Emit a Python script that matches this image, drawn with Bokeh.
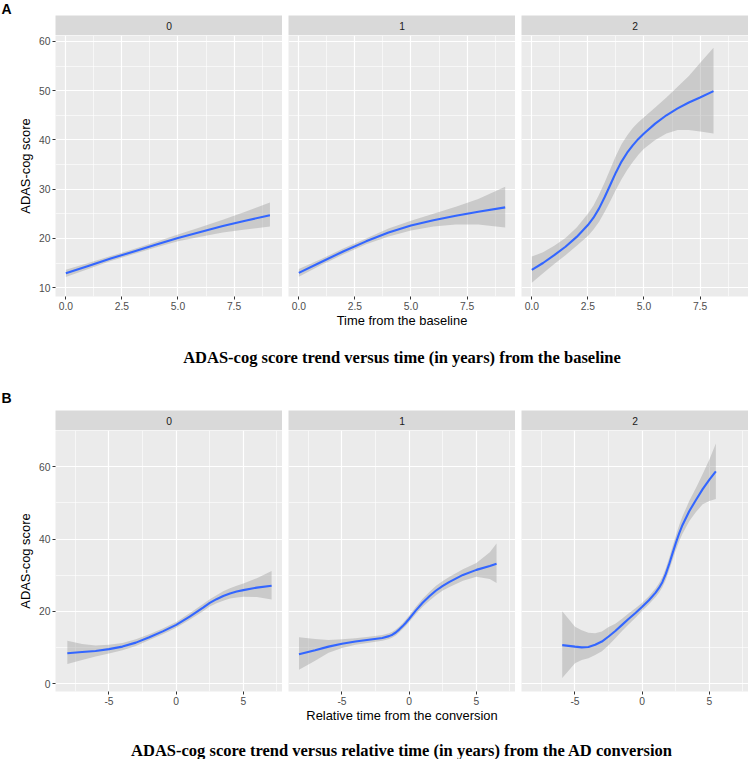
from bokeh.plotting import figure
from bokeh.layouts import row, column
from bokeh.models import Range1d, FixedTicker, NumeralTickFormatter, Spacer
from bokeh.embed import file_html
from bokeh.resources import INLINE
from bokeh.core.properties import value

# ---------------- data ----------------
facets = ["0", "1", "2"]
panel_letters = ["A", "B"]
y_title = "ADAS-cog score"
a_xlabel = "Time from the baseline"
b_xlabel = "Relative time from the conversion"
a_caption = "ADAS-cog score trend versus time (in years) from the baseline"
b_caption = "ADAS-cog score trend versus relative time (in years) from the AD conversion"

# Row A ticks
a_xticks = [0, 2.5, 5, 7.5]
a_xminor = [1.25, 3.75, 6.25, 8.75]
a_yticks = [10, 20, 30, 40, 50, 60]
a_yminor = [15, 25, 35, 45, 55]
# Row B ticks
b_xticks = [-5, 0, 5]
b_xminor = [-7.5, -2.5, 2.5, 7.5]
b_yticks = [0, 20, 40, 60]
b_yminor = [10, 30, 50]

# Row A, facet 0
a0_t = [0, 1, 2, 3, 4, 5, 6, 7, 8, 9.1]
a0_fit = [12.9, 14.4, 15.9, 17.3, 18.7, 20.1, 21.3, 22.5, 23.6, 24.7]
a0_lo = [12.15, 13.8, 15.4, 16.8, 18.15, 19.4, 20.35, 21.2, 21.8, 22.4]
a0_hi = [13.65, 15.0, 16.4, 17.8, 19.25, 20.8, 22.25, 23.8, 25.4, 27.3]
# Row A, facet 1
a1_t = [0, 1, 2, 3, 4, 5, 6, 7, 8, 9.2]
a1_fit = [13.0, 15.2, 17.4, 19.4, 21.2, 22.6, 23.7, 24.6, 25.4, 26.3]
a1_lo = [12.2, 14.6, 16.8, 18.8, 20.4, 21.6, 22.4, 22.8, 22.8, 22.2]
a1_hi = [13.8, 15.8, 18.0, 20.0, 22.0, 23.6, 25.0, 26.4, 28.0, 30.5]
# Row A, facet 2
a2_t = [0, 0.5, 1, 1.5, 2, 2.5, 2.75, 3, 3.25, 3.5, 3.75, 4, 4.25, 4.5, 4.75, 5, 5.5, 6, 6.5, 7, 7.5, 8.1]
a2_fit = [13.6, 15.0, 16.6, 18.3, 20.3, 22.7, 24.2, 26.1, 28.4, 30.9, 33.4, 35.6, 37.4, 38.9, 40.2, 41.3, 43.3, 45.0, 46.4, 47.6, 48.6, 49.9]
a2_lo = [11.0, 12.9, 14.8, 16.6, 18.5, 20.5, 21.8, 23.4, 25.4, 27.6, 29.9, 32.0, 33.9, 35.5, 37.0, 38.2, 40.0, 41.3, 42.0, 42.0, 41.7, 41.3]
a2_hi = [16.3, 17.2, 18.5, 20.1, 22.2, 25.0, 26.7, 28.9, 31.4, 34.1, 36.8, 39.1, 40.9, 42.4, 43.6, 44.6, 46.6, 48.6, 50.8, 53.0, 55.6, 58.7]

# Row B, facet 0
b0_t = [-8.1, -7, -6, -5, -4, -3, -2, -1, 0, 1, 2, 2.5, 3, 3.5, 4, 4.5, 5, 6, 7.1]
b0_fit = [8.45, 8.8, 9.1, 9.6, 10.3, 11.4, 12.9, 14.5, 16.3, 18.6, 21.1, 22.4, 23.4, 24.3, 25.0, 25.5, 25.9, 26.6, 27.1]
b0_lo = [5.5, 6.6, 7.6, 8.4, 9.3, 10.5, 12.1, 13.7, 15.5, 17.7, 20.1, 21.4, 22.3, 23.0, 23.6, 23.9, 24.1, 24.0, 23.3]
b0_hi = [11.9, 11.0, 10.6, 10.8, 11.3, 12.3, 13.7, 15.3, 17.1, 19.5, 22.1, 23.4, 24.5, 25.6, 26.4, 27.1, 27.7, 29.2, 31.2]
# Row B, facet 1
b1_t = [-8.2, -7, -6, -5, -4, -3, -2, -1.5, -1.25, -1, -0.75, -0.5, -0.25, 0, 0.5, 1, 1.5, 2, 2.5, 3, 4, 5, 6, 6.5]
b1_fit = [8.2, 9.3, 10.3, 11.1, 11.7, 12.2, 12.7, 13.2, 13.6, 14.2, 15.0, 15.9, 16.9, 18.0, 20.3, 22.4, 24.2, 25.8, 27.1, 28.2, 30.1, 31.5, 32.6, 33.2]
b1_lo = [3.9, 6.4, 8.6, 9.9, 10.8, 11.4, 11.9, 12.4, 12.8, 13.4, 14.2, 15.1, 16.0, 17.1, 19.3, 21.3, 23.0, 24.5, 25.8, 26.8, 28.5, 29.6, 29.0, 27.9]
b1_hi = [12.9, 12.4, 12.1, 12.3, 12.6, 13.0, 13.5, 14.0, 14.4, 15.0, 15.8, 16.7, 17.8, 18.9, 21.3, 23.5, 25.4, 27.1, 28.4, 29.6, 31.7, 33.4, 36.4, 38.8]
# Row B, facet 2
b2_t = [-5.95, -5, -4.5, -4, -3.5, -3, -2.5, -2, -1.5, -1, -0.5, 0, 0.5, 1, 1.25, 1.5, 1.75, 2, 2.25, 2.5, 2.75, 3, 3.5, 4, 4.5, 5, 5.48]
b2_fit = [10.7, 10.3, 10.1, 10.2, 10.8, 11.7, 13.1, 14.6, 16.3, 18.0, 19.6, 21.3, 23.1, 25.2, 26.5, 28.1, 30.3, 33.0, 36.0, 38.9, 41.6, 43.9, 47.7, 50.8, 53.8, 56.4, 58.7]
b2_lo = [1.6, 5.7, 6.6, 7.1, 8.0, 9.0, 10.7, 12.6, 14.6, 16.5, 18.3, 20.2, 22.0, 24.0, 25.2, 26.7, 28.7, 31.3, 34.1, 36.9, 39.4, 41.5, 44.9, 47.5, 49.6, 50.5, 51.1]
b2_hi = [20.1, 15.8, 14.8, 14.1, 14.0, 14.5, 15.7, 16.6, 18.0, 19.5, 20.9, 22.4, 24.2, 26.4, 27.8, 29.5, 31.9, 34.7, 37.9, 40.9, 43.8, 46.3, 50.5, 54.1, 58.0, 62.0, 66.4]

a_xrange = (-0.46, 9.66)
a_yrange = (8.2, 61.2)
b_xrange = (-8.98, 7.91)
b_yrange = (-2.1, 70.0)

# ---------------- style ----------------
SANS = "Liberation Sans"
SERIF = "Liberation Serif"
PANEL_W = 227
PANEL_H = 262
LEFT = 55
GAP = 6
BOTTOM = 33
STRIP_H = 20
INNER_W = 3 * PANEL_W + 2 * GAP


def blank_fig(width, height):
    f = figure(width=width, height=height, x_range=Range1d(0, 1), y_range=Range1d(0, 1),
               x_axis_location=None, y_axis_location=None, min_border=0,
               output_backend="svg", toolbar_location=None)
    f.grid.visible = False
    f.outline_line_color = None
    f.border_fill_color = "white"
    f.background_fill_color = "white"
    return f


def letter_fig(letter, height, yoff):
    f = blank_fig(LEFT, height)
    f.text(x=[0], y=[1], text=[letter], text_align="left", text_baseline="top",
           x_offset=1, y_offset=yoff, text_font=value(SANS), text_font_style="bold",
           text_font_size="14px", text_color="black")
    return f


def strip_fig(label):
    s = blank_fig(PANEL_W, STRIP_H)
    s.background_fill_color = "#D9D9D9"
    s.text(x=[0.5], y=[0.5], text=[label], text_align="center", text_baseline="middle",
           text_font=value(SANS), text_font_size="10.3px", text_color="#1A1A1A")
    return s


def header(letter, top, yoff):
    strips = row(*[strip_fig(l) for l in facets], spacing=GAP)
    return row(letter_fig(letter, top + STRIP_H, yoff),
               column(Spacer(width=INNER_W, height=top), strips, spacing=0),
               spacing=0)


def panel_fig(t, fit, lo, hi, xr, yr, xt, xm, yt, ym, fmt, first, xlabel=None):
    p = figure(width=PANEL_W + (LEFT if first else 0), height=PANEL_H + BOTTOM,
               x_range=Range1d(*xr), y_range=Range1d(*yr),
               y_axis_location="left" if first else None,
               min_border=0, min_border_left=LEFT if first else 0,
               min_border_bottom=BOTTOM,
               output_backend="svg", toolbar_location=None)
    p.background_fill_color = "#EBEBEB"
    p.border_fill_color = "white"
    p.outline_line_color = None

    p.xgrid.ticker = FixedTicker(ticks=xt, minor_ticks=xm)
    p.ygrid.ticker = FixedTicker(ticks=yt, minor_ticks=ym)
    p.grid.grid_line_color = "white"
    p.grid.grid_line_width = 1.2
    p.grid.minor_grid_line_color = "white"
    p.grid.minor_grid_line_width = 0.6

    axes = list(p.xaxis) + (list(p.yaxis) if first else [])
    for ax in axes:
        ax.axis_line_color = None
        ax.major_tick_line_color = "#333333"
        ax.major_tick_out = 3
        ax.major_tick_in = 0
        ax.minor_tick_out = 0
        ax.minor_tick_in = 0
        ax.major_label_text_color = "#4D4D4D"
        ax.major_label_text_font = SANS
        ax.major_label_text_font_size = "10.3px"
        ax.major_label_standoff = 2
        ax.axis_label_text_font = SANS
        ax.axis_label_text_font_size = "12.9px"
        ax.axis_label_text_font_style = "normal"
        ax.axis_label_text_color = "black"
    p.xaxis.ticker = FixedTicker(ticks=xt, minor_ticks=xm)
    p.xaxis.formatter = NumeralTickFormatter(format=fmt)
    p.xaxis.axis_label_standoff = 0
    if xlabel:
        p.xaxis.axis_label = xlabel
    if first:
        p.yaxis.ticker = FixedTicker(ticks=yt, minor_ticks=ym)
        p.yaxis.axis_label = y_title
        p.yaxis.axis_label_standoff = 3

    p.varea(x=t, y1=lo, y2=hi, fill_color="#999999", fill_alpha=0.4)
    p.line(x=t, y=fit, line_color="#3366FF", line_width=2.1)
    return p


def caption_row(text, height, baseline):
    c = blank_fig(INNER_W, height)
    yv = 0.5 if baseline == "middle" else 0.0
    c.text(x=[0.5], y=[yv], text=[text], text_align="center", text_baseline=baseline,
           text_font=value(SERIF), text_font_style="bold", text_font_size="16.5px",
           text_color="black")
    return row(Spacer(width=LEFT, height=height), c, spacing=0)


# ---------------- row A ----------------
headA = header(panel_letters[0], 15, 0)
a_data = [(a0_t, a0_fit, a0_lo, a0_hi), (a1_t, a1_fit, a1_lo, a1_hi), (a2_t, a2_fit, a2_lo, a2_hi)]
panelsA = row(*[panel_fig(*d, a_xrange, a_yrange, a_xticks, a_xminor, a_yticks, a_yminor, "0.0",
                          i == 0, a_xlabel if i == 1 else None) for i, d in enumerate(a_data)],
              spacing=GAP)
capA = caption_row(a_caption, 54, "middle")

# ---------------- row B ----------------
headB = header(panel_letters[1], 26, 5)
b_data = [(b0_t, b0_fit, b0_lo, b0_hi), (b1_t, b1_fit, b1_lo, b1_hi), (b2_t, b2_fit, b2_lo, b2_hi)]
panelsB = row(*[panel_fig(*d, b_xrange, b_yrange, b_xticks, b_xminor, b_yticks, b_yminor, "0",
                          i == 0, b_xlabel if i == 1 else None) for i, d in enumerate(b_data)],
              spacing=GAP)
capB = caption_row(b_caption, 34, "bottom")

layout = column(headA, panelsA, capA, headB, panelsB, capB, spacing=0)

open("out.html", "w").write(file_html(layout, INLINE))
